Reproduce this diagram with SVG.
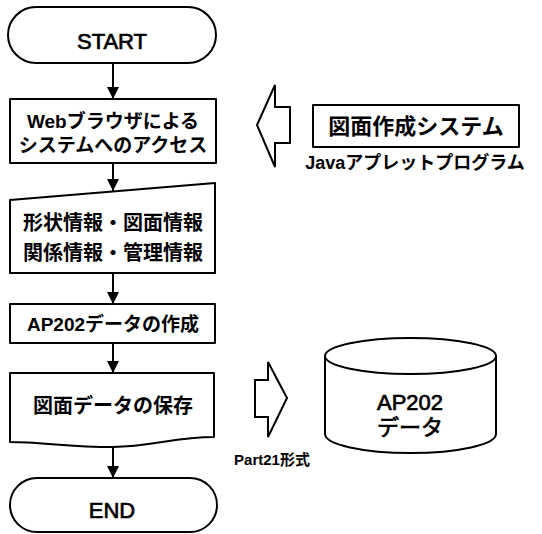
<svg xmlns="http://www.w3.org/2000/svg" width="542" height="534" viewBox="0 0 542 534">
<defs>
<style>
.s{fill:#fff;stroke:#000;stroke-width:2;stroke-linejoin:round}
.t{font-family:"Liberation Sans","Noto Sans CJK JP",sans-serif;font-weight:bold;fill:#000;text-anchor:middle}
.n{font-weight:normal;stroke:#000;stroke-width:0.7}
.c{stroke:#000;stroke-width:2;fill:none}
.b{fill:#fff;stroke:#000;stroke-width:2;stroke-linejoin:miter}
</style>
<marker id="ah" markerWidth="12" markerHeight="12" refX="12" refY="6" orient="auto" markerUnits="userSpaceOnUse">
<path d="M0,0 L12,6 L0,12 Z" fill="#000"/>
</marker>
</defs>
<rect width="542" height="534" fill="#fff"/>
<g id="connectors">
<line class="c" x1="113" y1="63" x2="113" y2="99" marker-end="url(#ah)"/>
<line class="c" x1="113" y1="163" x2="113" y2="191" marker-end="url(#ah)"/>
<line class="c" x1="113" y1="273" x2="113" y2="304" marker-end="url(#ah)"/>
<line class="c" x1="113" y1="343" x2="113" y2="373" marker-end="url(#ah)"/>
<line class="c" x1="113" y1="446" x2="113" y2="478" marker-end="url(#ah)"/>
<polygon class="b" points="257,125 275,85 275,107 290,107 290,143 275,143 275,167"/>
<polygon class="b" points="287,398 268,362 268,380 255,380 255,417 268,417 268,437"/>
</g>
<g id="start">
<rect class="s" x="8" y="7" width="208" height="56" rx="28" ry="28"/>
<text class="t n" x="112" y="49" font-size="22">START</text>
</g>
<g id="web-access">
<rect class="s" x="10" y="99" width="206" height="64"/>
<text class="t" x="113" y="128" font-size="19">Webブラウザによる</text>
<text class="t" x="113" y="152" font-size="19">システムへのアクセス</text>
</g>
<g id="info-input">
<polygon class="s" points="10,200 215,183 215,273 10,273"/>
<text class="t" x="113" y="230" font-size="20">形状情報・図面情報</text>
<text class="t" x="113" y="260" font-size="20">関係情報・管理情報</text>
</g>
<g id="ap202-create">
<rect class="s" x="10" y="304" width="205" height="39"/>
<text class="t" x="113" y="331" font-size="19">AP202データの作成</text>
</g>
<g id="save">
<path class="s" d="M10,373 H214 V437 C175,437 150,447 113,447 C70,447 40,442 10,442 Z"/>
<text class="t" x="113" y="413" font-size="20">図面データの保存</text>
</g>
<g id="end">
<rect class="s" x="10" y="478" width="207" height="54" rx="27" ry="27"/>
<text class="t n" x="112" y="518" font-size="22">END</text>
</g>
<g id="drawing-system">
<rect class="s" x="313" y="105" width="206" height="42"/>
<text class="t" x="416" y="134" font-size="22">図面作成システム</text>
<text class="t" x="415" y="169" font-size="18">Javaアプレットプログラム</text>
</g>
<g id="ap202-data">
<path class="s" d="M325,356 V434 A85.5,19 0 0 0 496,434 V356"/>
<ellipse class="s" cx="410.5" cy="356" rx="85.5" ry="18"/>
<text class="t n" x="410" y="410" font-size="22">AP202</text>
<text class="t n" x="410" y="435" font-size="22">データ</text>
</g>
<g id="part21">
<text class="t" x="272" y="465" font-size="15">Part21形式</text>
</g>
</svg>
